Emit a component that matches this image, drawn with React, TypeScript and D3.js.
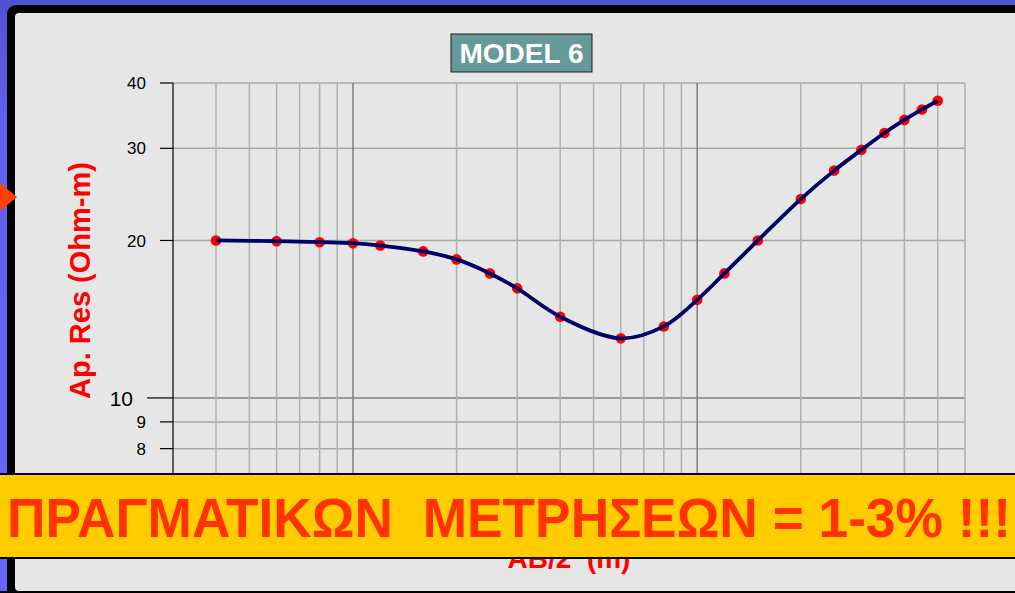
import React from "react";
import * as d3 from "d3";

const abHalf = [4, 6, 8, 10, 12, 16, 20, 25, 30, 40, 60, 80, 100, 120, 150, 200, 250, 300, 350, 400, 450, 500];
const resistivity = [20.0, 19.94, 19.85, 19.76, 19.56, 19.06, 18.4, 17.3, 16.2, 14.3, 13.0, 13.7, 15.4, 17.3, 20.0, 24.0, 27.2, 29.8, 32.1, 34.0, 35.6, 37.0];
const xGridValues = [4, 5, 6, 7, 8, 9, 10, 20, 30, 40, 50, 60, 70, 80, 90, 100, 200, 300, 400, 500, 600];
const xMajorValues = [10, 100];
const yGridValues = [6, 7, 8, 9, 10, 20, 30, 40];
const yTickLabels = [8, 9, 10, 20, 30, 40];
const yMajorValues = [10];
const title = "MODEL 6";
const yTitle = "Ap. Res (Ohm-m)";
const xTitle = "AB/2  (m)";
const banner = "ΠΡΑΓΜΑΤΙΚΩΝ  ΜΕΤΡΗΣΕΩΝ = 1-3% !!!";

const W = 1015;
const H = 593;
const PL = 173, PR = 965, PT = 83, PB = 514;

export default function App() {
  const x = d3.scaleLog().domain([3, 600]).range([PL, PR]);
  const y = d3.scaleLog().domain([6, 40]).range([PB, PT]);
  const pts: [number, number][] = abHalf.map((a, i) => [x(a), y(resistivity[i])]);
  const line = d3.line().curve(d3.curveCatmullRom.alpha(0.5))(pts) || "";
  const font = "Arial, 'Liberation Sans', Helvetica, sans-serif";

  return (
    <svg width={W} height={H} style={{ position: "fixed", left: 0, top: 0 }} fontFamily={font}>
      <defs>
        <linearGradient id="bg" x1="0" y1="0" x2="0" y2="1">
          <stop offset="0" stopColor="#5151d2" />
          <stop offset="0.2" stopColor="#6060f0" />
          <stop offset="1" stopColor="#6666ff" />
        </linearGradient>
      </defs>
      <rect x={0} y={0} width={W} height={H} fill="url(#bg)" />
      <rect x={7} y={5} width={W + 20} height={H + 20} rx={9} fill="#000" />
      <rect x={15} y={13} width={W + 20} height={591 - 13} rx={4} fill="#e6e6e6" />
      <path d="M0,183 L17,197 L0,211 Z" fill="#ff4000" />

      {/* grid */}
      {yGridValues.map((v) => (
        <line key={"hy" + v} x1={PL} x2={PR} y1={y(v)} y2={y(v)}
          stroke={yMajorValues.includes(v) ? "#808080" : "#a8a8a8"} strokeWidth={1.5} />
      ))}
      {xGridValues.map((v) => (
        <line key={"vx" + v} x1={x(v)} x2={x(v)} y1={PT} y2={PB}
          stroke={xMajorValues.includes(v) ? "#808080" : "#b0b0b0"} strokeWidth={1.5} />
      ))}
      {/* y axis */}
      <line x1={PL} x2={PL} y1={PT} y2={PB} stroke="#000" strokeWidth={1.2} />
      {yTickLabels.map((v) => {
        const major = yMajorValues.includes(v);
        return (
          <g key={"yt" + v}>
            <line x1={major ? 147 : 160} x2={PL} y1={y(v)} y2={y(v)} stroke="#000" strokeWidth={1.2} />
            <text x={major ? 133 : 146} y={y(v)} dy="0.36em" textAnchor="end" fontSize={major ? 21 : 17} fill="#000">
              {v}
            </text>
          </g>
        );
      })}

      {/* data */}
      {pts.map((p, i) => (
        <circle key={"c" + i} cx={p[0]} cy={p[1]} r={5.3} fill="#ff0000" />
      ))}
      <path d={line} fill="none" stroke="#000066" strokeWidth={3.8} />

      {/* titles */}
      <rect x={451} y={34} width={141} height={38} fill="#669999" stroke="#1a1a1a" strokeWidth={1} />
      <text x={521.5} y={63} textAnchor="middle" fontSize={28} fontWeight="bold" fill="#fff">{title}</text>
      <text transform="translate(89.5,280.5) rotate(-90)" textAnchor="middle" fontSize={29} fontWeight="bold" fill="#ff0000">{yTitle}</text>
      <text x={(PL + PR) / 2} y={568} textAnchor="middle" fontSize={28} fontWeight="bold" fill="#ff0000" style={{ whiteSpace: "pre" }}>{xTitle}</text>

      {/* banner */}
      <rect x={-5} y={474} width={W + 10} height={84} fill="#ffcc00" stroke="#000" strokeWidth={2} />
      <text x={7} y={537} fontSize={56} fontWeight="bold" fill="#ff3300" textLength={1004} lengthAdjust="spacingAndGlyphs" style={{ whiteSpace: "pre" }}>{banner}</text>
      <rect x={0} y={591} width={W} height={2} fill="#000" />
    </svg>
  );
}
